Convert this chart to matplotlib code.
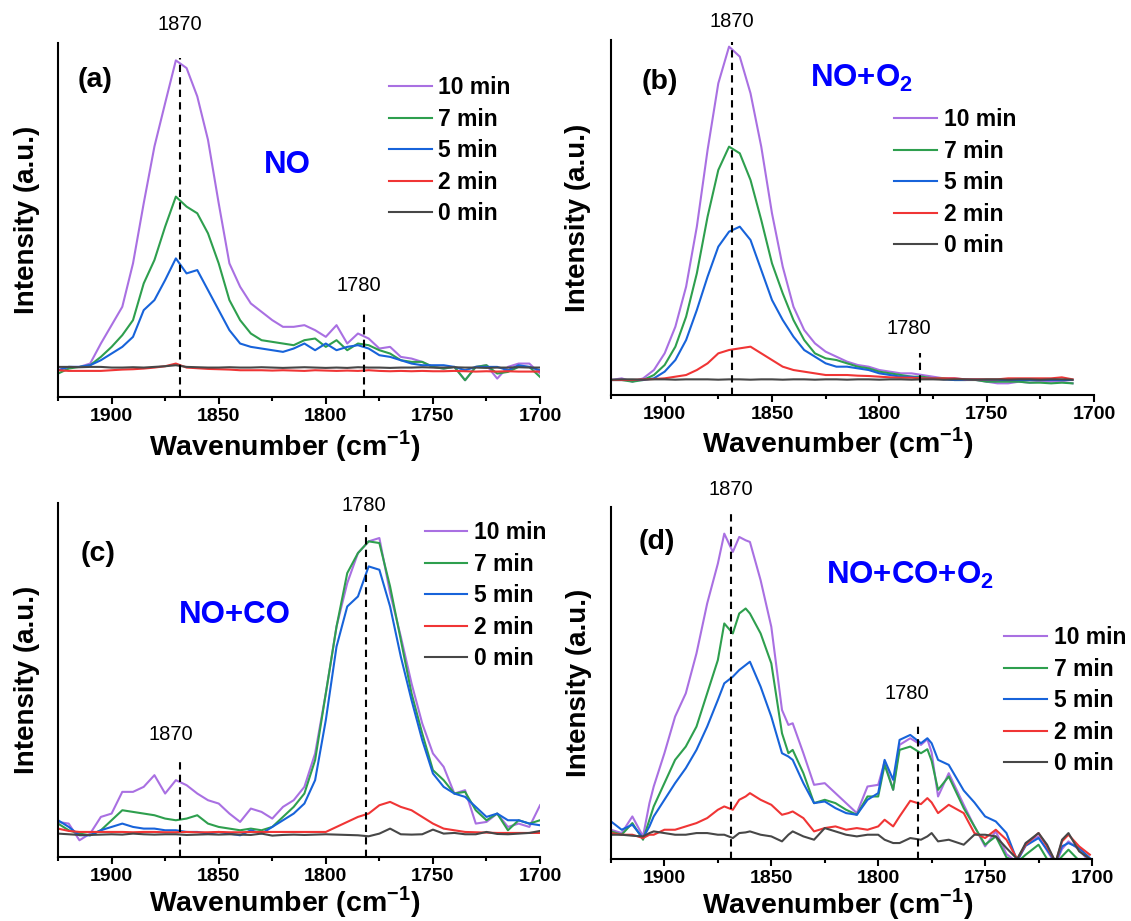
import numpy as np
import matplotlib.pyplot as plt
from matplotlib.ticker import MultipleLocator

# Arial-like bold text everywhere
plt.rcParams['font.family'] = ['Liberation Sans', 'DejaVu Sans']
plt.rcParams['font.weight'] = 'bold'
plt.rcParams['axes.labelweight'] = 'bold'
plt.rcParams['mathtext.fontset'] = 'custom'
plt.rcParams['mathtext.rm'] = 'Liberation Sans:bold'
plt.rcParams['mathtext.bf'] = 'Liberation Sans:bold'

# legend entries and colours (top to bottom)
times = ['10 min', '7 min', '5 min', '2 min', '0 min']
colors = ['#A970E2', '#2E9F4E', '#1763DA', '#F03535', '#474747']

# ---------------- (a) NO ----------------
wn_a = [1925, 1920, 1915, 1910, 1905, 1900, 1895, 1890, 1885, 1880, 1875, 1870,
        1865, 1860, 1855, 1850, 1845, 1840, 1835, 1830, 1825, 1820, 1815, 1810,
        1805, 1800, 1795, 1790, 1785, 1780, 1775, 1770, 1765, 1760, 1755, 1750,
        1745, 1740, 1735, 1730, 1725, 1720, 1715, 1710, 1705, 1700]
a_10 = [80, 90, 90, 100, 160, 215, 270, 400, 580, 750, 880, 1008, 985, 900, 770,
        580, 400, 330, 280, 255, 230, 210, 210, 215, 200, 180, 215, 160, 190, 175,
        145, 150, 120, 115, 105, 90, 85, 90, 50, 90, 95, 55, 90, 100, 100, 70]
a_7 = [70, 85, 90, 95, 120, 150, 185, 230, 340, 410, 510, 600, 570, 550, 490,
       400, 290, 230, 190, 170, 165, 160, 155, 170, 175, 150, 170, 140, 160, 155,
       140, 130, 110, 105, 105, 90, 85, 90, 50, 90, 95, 70, 75, 90, 90, 60]
a_5 = [80, 90, 90, 95, 110, 130, 150, 180, 260, 290, 350, 415, 370, 380, 320,
       260, 200, 160, 150, 145, 140, 135, 145, 160, 140, 160, 140, 150, 155, 145,
       125, 120, 110, 100, 95, 95, 95, 90, 80, 90, 90, 90, 80, 95, 90, 80]
a_2 = [80, 78, 78, 78, 78, 80, 82, 83, 85, 88, 92, 100, 88, 86, 84,
       83, 82, 80, 80, 80, 79, 80, 79, 78, 80, 79, 78, 79, 78, 80,
       78, 77, 78, 77, 78, 77, 77, 78, 77, 76, 77, 76, 77, 76, 76, 76]
a_0 = [90, 90, 89, 90, 90, 88, 88, 89, 88, 90, 92, 95, 90, 89, 88,
       88, 89, 88, 88, 89, 88, 87, 88, 89, 88, 87, 88, 87, 89, 88,
       88, 87, 88, 88, 89, 88, 88, 89, 88, 88, 87, 88, 88, 89, 88, 88]

# ---------------- (b) NO+O2 ----------------
wn_b = [1925, 1920, 1915, 1910, 1905, 1900, 1895, 1890, 1885, 1880, 1875, 1870,
        1865, 1860, 1855, 1850, 1845, 1840, 1835, 1830, 1825, 1820, 1815, 1810,
        1805, 1800, 1795, 1790, 1785, 1780, 1775, 1770, 1765, 1760, 1755, 1750,
        1745, 1740, 1735, 1730, 1725, 1720, 1715, 1710]
b_10 = [45, 50, 40, 50, 75, 125, 205, 325, 505, 735, 935, 1045, 1015, 905, 745,
        545, 385, 265, 195, 155, 130, 115, 100, 90, 85, 75, 70, 65, 65, 60,
        55, 50, 50, 47, 45, 40, 35, 35, 40, 37, 40, 40, 40, 35]
b_7 = [45, 45, 40, 45, 60, 90, 145, 235, 365, 535, 675, 745, 725, 645, 525,
       395, 305, 225, 165, 125, 110, 105, 95, 85, 80, 70, 65, 60, 55, 55,
       50, 50, 45, 45, 45, 40, 40, 40, 40, 37, 37, 35, 37, 35]
b_5 = [45, 45, 45, 45, 50, 70, 105, 165, 255, 355, 445, 490, 505, 465, 375,
       285, 225, 175, 135, 115, 95, 85, 85, 80, 75, 65, 60, 55, 55, 50,
       50, 47, 45, 45, 47, 45, 45, 45, 45, 45, 45, 45, 45, 45]
b_2 = [45, 45, 45, 47, 48, 50, 55, 60, 75, 95, 125, 135, 140, 145, 125,
       105, 85, 75, 70, 65, 60, 60, 60, 58, 57, 55, 53, 52, 52, 50,
       50, 50, 50, 47, 47, 47, 47, 50, 50, 50, 50, 50, 53, 47]
b_0 = [46, 47, 47, 46, 47, 47, 46, 47, 47, 47, 46, 47, 47, 46, 47,
       47, 46, 47, 47, 46, 47, 47, 46, 47, 47, 46, 47, 47, 46, 47,
       47, 46, 47, 47, 46, 47, 47, 46, 47, 47, 46, 47, 47, 46]

# ---------------- (c) NO+CO ----------------
wn_c = wn_a
c_10 = [105, 100, 50, 70, 120, 130, 195, 195, 210, 245, 190, 230, 215, 190, 170,
        160, 130, 105, 145, 135, 115, 150, 170, 210, 310, 490, 690, 820, 910, 945,
        955, 790, 660, 520, 400, 310, 270, 190, 200, 100, 105, 130, 90, 100, 90, 155]
c_7 = [100, 80, 70, 65, 80, 110, 140, 135, 130, 125, 115, 110, 115, 125, 100,
       90, 85, 80, 85, 80, 90, 120, 150, 190, 290, 490, 690, 850, 910, 945,
       940, 810, 650, 490, 370, 260, 230, 190, 195, 140, 110, 130, 80, 110, 100, 110]
c_5 = [110, 90, 65, 65, 80, 90, 100, 90, 85, 85, 80, 80, 75, 75, 70,
       75, 70, 65, 80, 70, 90, 110, 130, 160, 230, 410, 630, 750, 780, 870,
       860, 750, 600, 470, 350, 250, 210, 190, 180, 150, 120, 130, 110, 110, 100, 95]
c_2 = [85, 78, 75, 75, 75, 75, 75, 74, 75, 75, 74, 74, 75, 74, 74,
       75, 74, 74, 75, 75, 75, 75, 75, 75, 75, 75, 90, 105, 120, 130,
       155, 165, 150, 140, 120, 100, 85, 80, 75, 74, 73, 72, 72, 72, 72, 72]
c_0 = [70, 68, 66, 66, 67, 68, 67, 70, 68, 67, 68, 68, 66, 67, 68,
       67, 68, 67, 66, 70, 64, 66, 67, 66, 67, 68, 67, 66, 65, 62,
       70, 85, 68, 67, 68, 82, 70, 72, 68, 68, 75, 69, 68, 70, 72, 78]

# ---------------- (d) NO+CO+O2 ----------------
wn_d = [1925, 1920, 1915, 1910, 1907, 1905, 1900, 1895, 1890, 1885, 1880, 1875,
        1872, 1868, 1865, 1862, 1860, 1855, 1850, 1845, 1842, 1840, 1835, 1830,
        1825, 1820, 1815, 1810, 1805, 1800, 1797, 1793, 1790, 1785, 1780, 1777,
        1775, 1772, 1767, 1760, 1755, 1750, 1745, 1740, 1735, 1731, 1725, 1721,
        1717, 1714, 1711, 1706, 1701]
d_10 = [88, 78, 128, 68, 168, 218, 318, 428, 498, 618, 768, 888, 978, 923, 968, 958, 953,
        838, 698, 448, 403, 408, 318, 223, 228, 198, 168, 138, 218, 223,
        293, 208, 343, 363, 343, 360, 320, 188, 258, 163, 98, 38, 83,
        15, -10, 48, 68, 25, -15, 30, 53, 28, -10]
d_7 = [83, 73, 108, 58, 118, 158, 228, 298, 338, 398, 498, 598, 708, 678, 738, 753, 738,
       678, 588, 378, 318, 328, 258, 168, 178, 168, 148, 133, 188, 188,
       283, 208, 328, 338, 318, 330, 295, 208, 248, 153, 98, 43, 68,
       5, -10, 13, 43, 0, -15, 8, 28, -5, -15]
d_5 = [113, 88, 103, 63, 98, 128, 178, 228, 273, 328, 398, 478, 528, 548, 568, 583, 593,
       518, 428, 318, 308, 298, 228, 168, 173, 153, 138, 133, 178, 198,
       298, 238, 358, 373, 348, 363, 348, 298, 283, 206, 170, 128, 113,
       78, -5, 40, 63, 28, -10, 38, 48, 33, 3]
d_2 = [78, 73, 73, 63, 73, 73, 88, 88, 98, 108, 123, 148, 158, 148, 178, 188, 198,
       178, 163, 133, 138, 143, 123, 83, 93, 98, 88, 93, 88, 98,
       118, 98, 128, 175, 165, 183, 170, 138, 163, 138, 78, 63, 88,
       58, 0, 43, 78, 38, -10, 53, 73, 38, 13]
d_0 = [73, 73, 70, 68, 78, 83, 78, 73, 73, 78, 78, 73, 73, 63, 78, 80, 83,
       73, 68, 53, 73, 83, 68, 58, 93, 83, 73, 68, 73, 73,
       58, 48, 48, 63, 58, 68, 78, 53, 58, 43, 73, 73, 68,
       33, 0, 48, 78, 43, -10, 58, 78, 23, 0]

fig = plt.figure(figsize=(11.31, 9.21), dpi=100)

panels = [
    dict(rect=[0.0513, 0.5690, 0.4262, 0.3843], wn=wn_a, ys=[a_10, a_7, a_5, a_2, a_0],
         ytop=1060, letter='(a)', lpos=(1907.9, 950), gas='NO', gpos=(1817.9, 672),
         marks=[(1868, 1016, 1116), (1782, 250, 333)], mlab=[(1868, '1870'), (1784.5, '1780')],
         leg=(0.687, 0.906), ylab=-0.0498, xlab=(0.471, -0.1638)),
    dict(rect=[0.5402, 0.5711, 0.4271, 0.3855], wn=wn_b, ys=[b_10, b_7, b_5, b_2, b_0],
         ytop=1065, letter='(b)', lpos=(1902.2, 940), gas=r'NO+O$_{\mathbf{2}}$', gpos=(1808.5, 924),
         marks=[(1868.4, 1060, 1119), (1781.1, 125, 200)], mlab=[(1868.6, '1870'), (1786.4, '1780')],
         leg=(0.5866, 0.807), ylab=-0.0528, xlab=(0.469, -0.160)),
    dict(rect=[0.0513, 0.0695, 0.4262, 0.3844], wn=wn_c, ys=[c_10, c_7, c_5, c_2, c_0],
         ytop=1060, letter='(c)', lpos=(1906.2, 908), gas='NO+CO', gpos=(1842.6, 701),
         marks=[(1781.2, 995, 1051), (1868.2, 285, 368)], mlab=[(1782.3, '1780'), (1872.4, '1870')],
         leg=(0.761, 0.948), ylab=-0.0498, xlab=(0.471, -0.152)),
    dict(rect=[0.5402, 0.0673, 0.4253, 0.3822], wn=wn_d, ys=[d_10, d_7, d_5, d_2, d_0],
         ytop=1058, letter='(d)', lpos=(1903.7, 953), gas=r'NO+CO+O$_{\mathbf{2}}$', gpos=(1784.9, 827),
         marks=[(1869, 1048, 1110), (1781.2, 403, 498)], mlab=[(1868.8, '1870'), (1786.8, '1780')],
         leg=(0.8177, 0.661), ylab=-0.0528, xlab=(0.471, -0.1534)),
]

for p in panels:
    ax = fig.add_axes(p['rect'])
    lines = []
    for y, c, t in zip(p['ys'], colors, times):
        ln, = ax.plot(p['wn'], y, color=c, lw=1.5, label=t)
        lines.append(ln)

    # dashed band markers + their labels
    for (x, h, ty), (tx, s) in zip(p['marks'], p['mlab']):
        ax.vlines(x, 0, h, colors='k', linestyles=(0, (3.5, 2.5)), lw=1.5)
        ax.text(tx, ty, s, ha='center', va='center', fontsize=14.5,
                fontweight='normal', clip_on=False)

    ax.text(*p['lpos'], p['letter'], ha='center', va='center', fontsize=20.5)
    ax.text(*p['gpos'], p['gas'], ha='center', va='baseline', fontsize=22.5,
            color='#0000FF')

    ax.legend(handles=lines, loc='upper left', bbox_to_anchor=p['leg'], frameon=False,
              borderpad=0, borderaxespad=0, handlelength=1.85, handletextpad=0.3,
              labelspacing=0.37, prop=dict(size=16.5, weight='bold'))

    ax.set_xlim(1925, 1700)
    ax.set_ylim(0, p['ytop'])
    ax.xaxis.set_major_locator(MultipleLocator(50))
    ax.xaxis.set_minor_locator(MultipleLocator(25))
    ax.set_yticks([])
    for s in ['top', 'right']:
        ax.spines[s].set_visible(False)
    for s in ['left', 'bottom']:
        ax.spines[s].set_linewidth(1.5)
    ax.tick_params(axis='x', which='major', direction='out', length=5, width=1.5,
                   pad=3, labelsize=14)
    ax.tick_params(axis='x', which='minor', direction='out', length=3, width=1.5)

    ax.set_xlabel(r'Wavenumber (cm$^{-1}$)', fontsize=20.5, fontweight='bold', va='baseline')
    ax.xaxis.set_label_coords(*p['xlab'])
    ax.set_ylabel('Intensity (a.u.)', fontsize=20, fontweight='bold', va='baseline')
    ax.yaxis.set_label_coords(p['ylab'], 0.5)

fig.savefig('out.png', dpi=100)
